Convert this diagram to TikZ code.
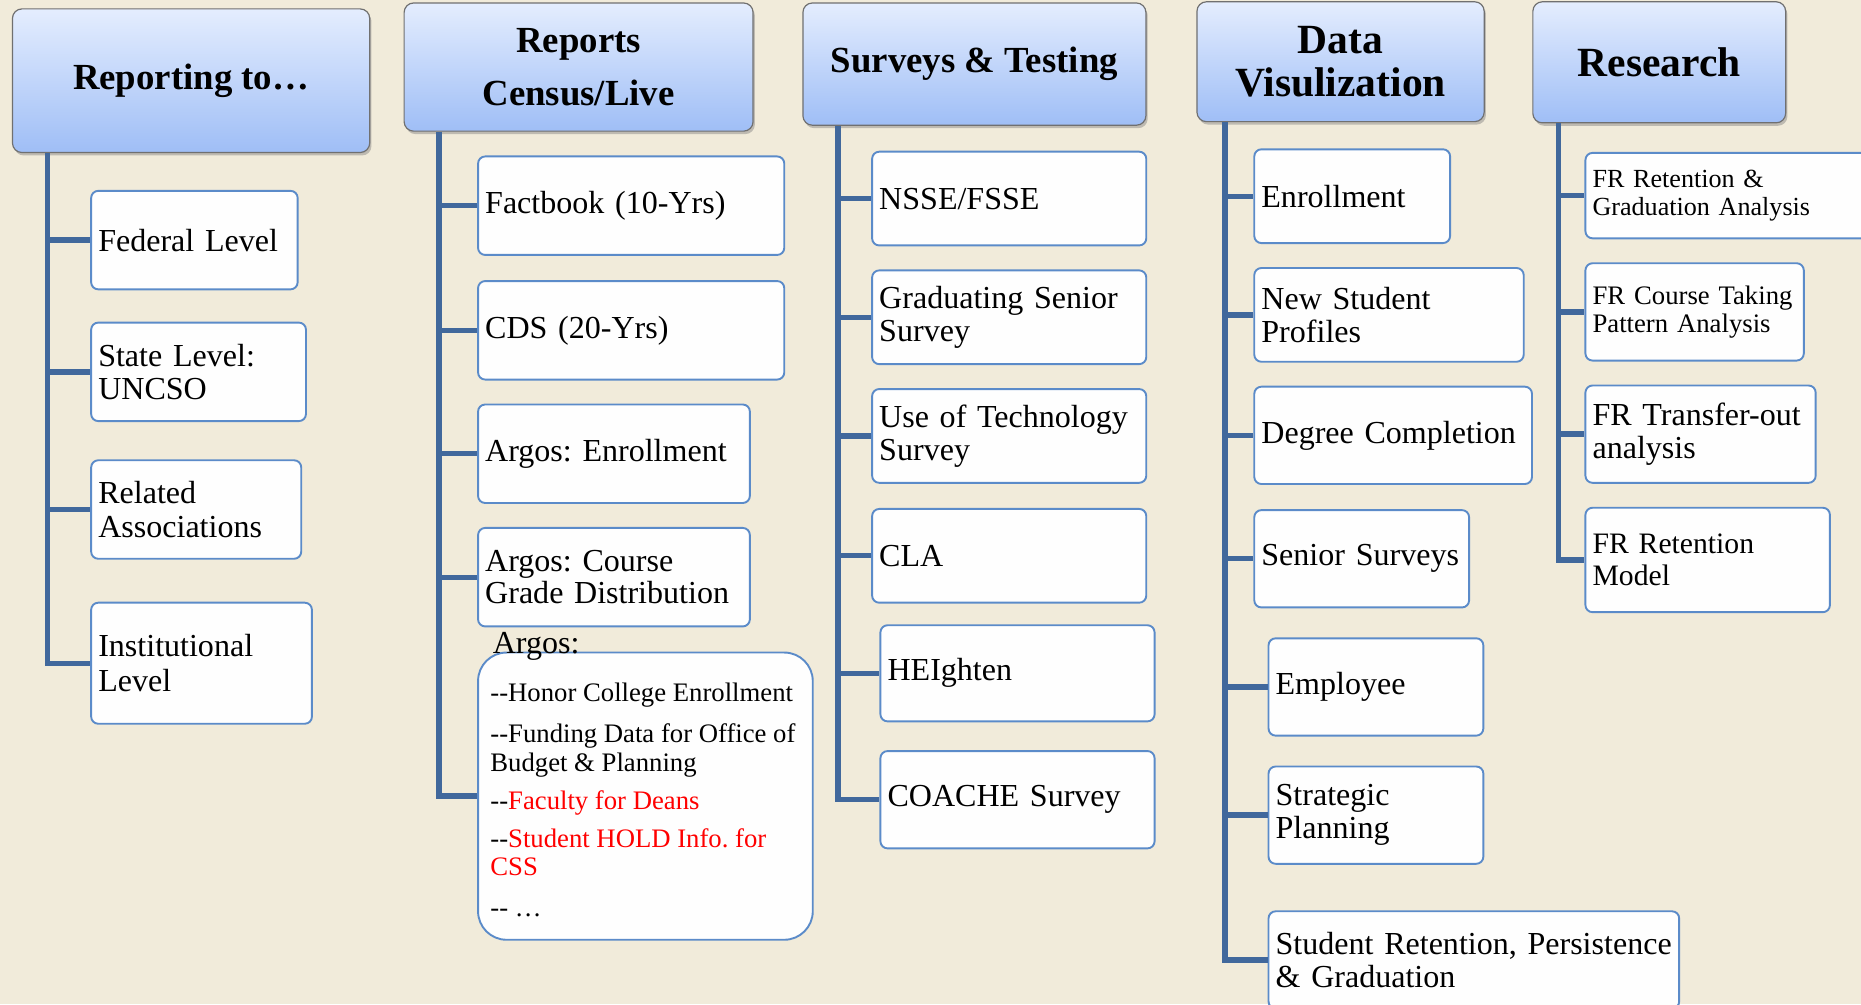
\documentclass[tikz,border=0pt]{standalone}
\usepackage{fontspec}
\setmainfont{Liberation Serif}
\usetikzlibrary{shadows}
\frenchspacing

\definecolor{paper}{HTML}{F1EBDA}
\definecolor{trunkc}{HTML}{41689C}
\definecolor{leafc}{HTML}{5B8BC9}
\definecolor{headtop}{HTML}{E4EDFE}
\definecolor{headbot}{HTML}{9FBEF6}
\definecolor{headline}{HTML}{707070}

\newcommand{\fs}[1]{\fontsize{#1}{#1}\selectfont}

\tikzset{
  head/.style={draw=headline, line width=1pt, rounded corners=8pt, top color=headtop, bottom color=headbot,
    drop shadow={shadow xshift=1.5pt, shadow yshift=-2.5pt, opacity=.45}, anchor=north west,
    align=center, inner sep=0pt, font=\bfseries},
  leaf/.style={draw=leafc, fill=white!60!paper!10, line width=1.6pt, rounded corners=6pt, anchor=north west,
    align=left, inner xsep=6pt, inner ysep=0pt},
  trunk/.style={draw=trunkc, line width=4.5pt, line join=miter},
}

\begin{document}
\begin{tikzpicture}[x=1pt, y=-1pt]
\useasboundingbox[fill=paper] (0,0) rectangle (1568,846);

% headers
\node[head, minimum width=301pt, minimum height=121pt, font=\bfseries\fs{31}] (rep) at (10,7) {Reporting to\ldots};
\node[head, minimum width=294pt, minimum height=108pt, font=\bfseries\fontsize{31}{45}\selectfont] (cen) at (340,2) {Reports\\Census/Live};
\node[head, minimum width=289pt, minimum height=103pt, font=\bfseries\fs{31}] (sur) at (676,2) {Surveys \& Testing};
\node[head, minimum width=242pt, minimum height=101pt, font=\bfseries\fontsize{35}{37}\selectfont] (viz) at (1008,1) {Data\\Visulization};
\node[head, minimum width=213pt, minimum height=102pt, font=\bfseries\fs{35}] (res) at (1291,1) {Research};

% reporting to
\node[leaf, text width=162pt, minimum height=83pt, font=\fs{27}] (fed) at (76,160) {Federal Level};
\node[leaf, text width=169pt, minimum height=83pt, font=\fontsize{27}{28}\selectfont] (state) at (76,271) {State Level:\\UNCSO};
\node[leaf, text width=165pt, minimum height=83pt, font=\fontsize{27}{28}\selectfont] (assoc) at (76,387) {Related\\Associations};
\node[leaf, text width=174pt, minimum height=102pt, font=\fontsize{27}{29}\selectfont] (inst) at (76,507) {Institutional\\Level};

% reports
\node[leaf, text width=246pt, minimum height=83pt, font=\fs{27}] (fact) at (402,131) {Factbook (10-Yrs)};
\node[leaf, text width=246pt, minimum height=83pt, font=\fs{27}] (cds) at (402,236) {CDS (20-Yrs)};
\node[leaf, text width=217pt, minimum height=83pt, font=\fs{27}] (aenr) at (402,340) {Argos: Enrollment};
\node[leaf, text width=217pt, minimum height=83pt, font=\fontsize{27}{27}\selectfont] (agrd) at (402,444) {Argos: Course\\Grade Distribution};
\node[leaf, rounded corners=24pt, minimum width=282pt, minimum height=242pt] (argos) at (402,549) {};
\node[anchor=north west, align=left, inner sep=0pt, font=\fontsize{22.5}{24}\selectfont] (alist) at (413,575)
  {-{}-Honor College Enrollment\\[11pt]
   -{}-Funding Data for Office of\\
   Budget \& Planning\\[8pt]
   -{}-\textcolor{red}{Faculty for Deans}\\[8pt]
   -{}-\textcolor{red}{Student HOLD Info. for}\\
   \textcolor{red}{CSS}\\[10pt]
   -{}- \ldots};
\node[anchor=base west, inner sep=0pt, font=\fs{27}] (atit) at (415,551) {Argos:};

% surveys
\node[leaf, text width=219pt, minimum height=79pt, font=\fs{27}] (nsse) at (734,127) {NSSE/FSSE};
\node[leaf, text width=219pt, minimum height=79pt, font=\fontsize{27}{28}\selectfont] (grad) at (734,227) {Graduating Senior\\Survey};
\node[leaf, text width=219pt, minimum height=79pt, font=\fontsize{27}{28}\selectfont] (tech) at (734,327) {Use of Technology\\Survey};
\node[leaf, text width=219pt, minimum height=79pt, font=\fs{27}] (cla) at (734,428) {CLA};
\node[leaf, text width=219pt, minimum height=81pt, font=\fs{27}] (heig) at (741,526) {HEIghten};
\node[leaf, text width=219pt, minimum height=82pt, font=\fs{27}] (coac) at (741,632) {COACHE Survey};

% data visulization
\node[leaf, text width=153pt, minimum height=79pt, font=\fs{27}] (enr) at (1056,125) {Enrollment};
\node[leaf, text width=215pt, minimum height=79pt, font=\fontsize{27}{28}\selectfont] (nsp) at (1056,225) {New Student\\Profiles};
\node[leaf, text width=222pt, minimum height=82pt, font=\fs{27}] (deg) at (1056,325) {Degree Completion};
\node[leaf, text width=169pt, minimum height=82pt, font=\fs{27}] (sen) at (1056,429) {Senior Surveys};
\node[leaf, text width=169pt, minimum height=82pt, font=\fs{27}] (emp) at (1068,537) {Employee};
\node[leaf, text width=169pt, minimum height=82pt, font=\fontsize{27}{28}\selectfont] (strat) at (1068,645) {Strategic\\Planning};
\node[leaf, text width=334pt, minimum height=82pt, font=\fontsize{27}{28}\selectfont] (sret) at (1068,767) {Student Retention, Persistence\\\& Graduation};

% research
\node[leaf, text width=250pt, minimum height=72pt, font=\fontsize{22}{24}\selectfont] (frg) at (1335,128) {FR Retention \&\\Graduation Analysis};
\node[leaf, text width=172pt, minimum height=82pt, font=\fontsize{22.5}{24}\selectfont] (frc) at (1335,221) {FR Course Taking\\Pattern Analysis};
\node[leaf, text width=182pt, minimum height=82pt, font=\fontsize{27}{28}\selectfont] (frt) at (1335,324) {FR Transfer-out\\analysis};
\node[leaf, text width=194pt, minimum height=88pt, font=\fontsize{25}{27}\selectfont] (frm) at (1335,427) {FR Retention\\Model};

% trunks
\draw[trunk] (rep.south -| 40,0) |- (inst.west);
\foreach \n in {fed,state,assoc} \draw[trunk] (\n.west -| 40,0) -- (\n.west);
\draw[trunk] (cen.south -| 370,0) |- (argos.west);
\foreach \n in {fact,cds,aenr,agrd} \draw[trunk] (\n.west -| 370,0) -- (\n.west);
\draw[trunk] (sur.south -| 706,0) |- (coac.west);
\foreach \n in {nsse,grad,tech,cla,heig} \draw[trunk] (\n.west -| 706,0) -- (\n.west);
\draw[trunk] (viz.south -| 1032,0) |- (sret.west);
\foreach \n in {enr,nsp,deg,sen,emp,strat} \draw[trunk] (\n.west -| 1032,0) -- (\n.west);
\draw[trunk] (res.south -| 1313,0) |- (frm.west);
\foreach \n in {frg,frc,frt} \draw[trunk] (\n.west -| 1313,0) -- (\n.west);
\end{tikzpicture}
\end{document}
